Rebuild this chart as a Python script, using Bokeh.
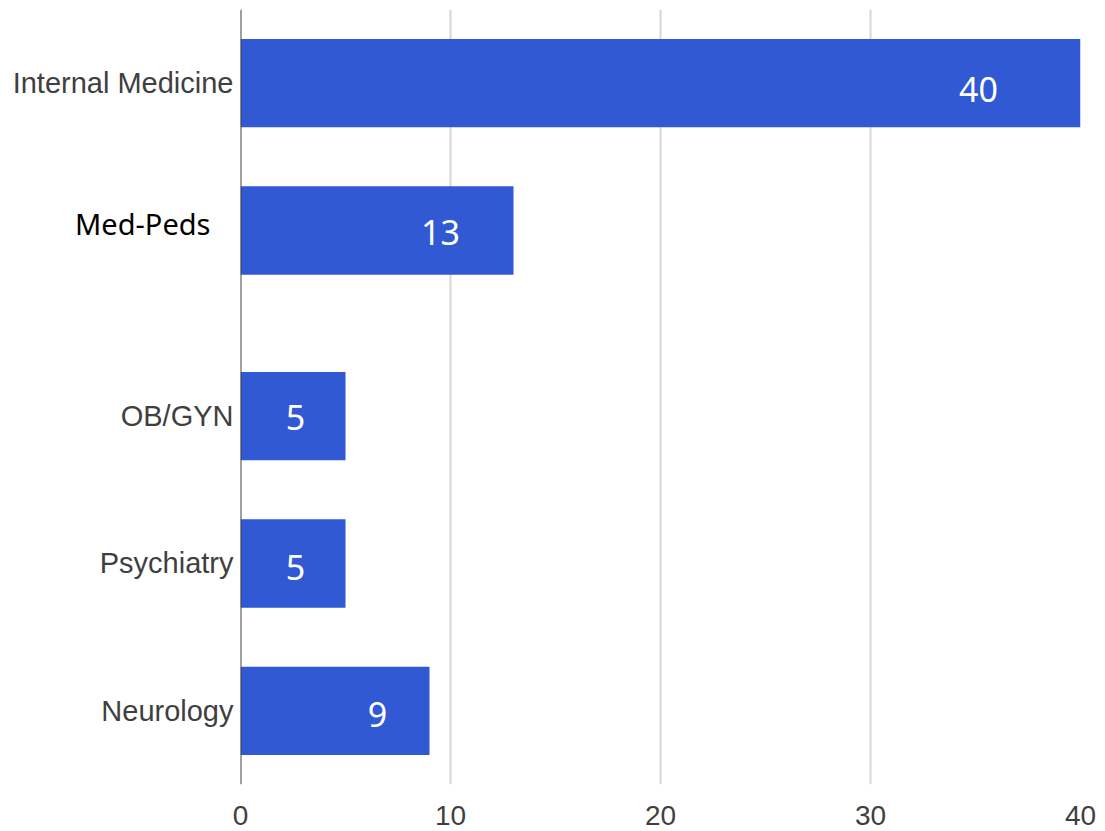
from bokeh.plotting import figure
from bokeh.models import ColumnDataSource, FactorRange, Range1d, FixedTicker, Span
from bokeh.core.properties import value
from bokeh.embed import file_html
from bokeh.resources import INLINE

# Specialties, top to bottom, and counts
specialties = ["Internal Medicine", "Med-Peds", "OB/GYN", "Psychiatry", "Neurology"]
counts = [40, 13, 5, 5, 9]
# The first two specialties form one block, the rest another (small gap between them)
blocks = ["a", "a", "b", "b", "b"]
x_ticks = [0, 10, 20, 30, 40]

# Nudges (px) of the white count labels from each bar's end
count_label_dx = [-102, -73, -50, -50, -52]
count_label_dy = [6, 2, 1, 4, 4]

BAR = "#3059D3"
LABEL_GREY = "#3f3f3f"

factors = list(zip(blocks, specialties))
# categorical axis runs bottom-up, so reverse for a top-down listing
y_range = FactorRange(factors=factors[::-1], group_padding=0.26, range_padding=0)

p = figure(
    width=1105, height=831,
    x_range=Range1d(0, 40), y_range=y_range,
    output_backend="svg", toolbar_location=None,
    min_border_left=240, min_border_right=25,
    min_border_top=9, min_border_bottom=47,
)

src = ColumnDataSource(dict(y=factors, count=counts,
                            label=[str(c) for c in counts],
                            dx=count_label_dx, dy=count_label_dy))

p.hbar(y="y", right="count", left=0, height=0.6, source=src,
       fill_color=BAR, line_color=None)

p.text(x="count", y="y", text="label", source=src,
       x_offset="dx", y_offset="dy",
       text_align="center", text_baseline="middle",
       text_color="white", text_font=value("Noto Sans"),
       text_font_size="34px")

# Specialty names beside the axis; Med-Peds is set in its own face
is_mp = [s == "Med-Peds" for s in specialties]
names = ColumnDataSource(dict(
    y=factors, x=[0] * len(factors), name=specialties,
    dx=[-30 if m else -7 for m in is_mp],
    dy=[-7 if m else 0 for m in is_mp],
    font=["Noto Sans" if m else "Liberation Sans" for m in is_mp],
    color=["black" if m else LABEL_GREY for m in is_mp],
))
p.text(x="x", y="y", text="name", source=names, x_offset="dx", y_offset="dy",
       text_align="right", text_baseline="middle",
       text_color="color", text_font="font", text_font_size="29px",
       level="overlay")

# Axes: bottom value axis with labels only, left baseline as a rule
p.xaxis.ticker = FixedTicker(ticks=x_ticks)
p.xaxis.axis_line_color = None
p.xaxis.major_tick_line_color = None
p.xaxis.minor_tick_line_color = None
p.xaxis.major_label_text_font = "Liberation Sans"
p.xaxis.major_label_text_font_size = "28px"
p.xaxis.major_label_text_color = LABEL_GREY
p.xaxis.major_label_standoff = 15

p.yaxis.visible = False
p.add_layout(Span(location=0, dimension="height",
                  line_color="#444444", line_width=2))

p.xgrid.grid_line_color = "#d6d6d6"
p.xgrid.grid_line_width = 2
p.ygrid.grid_line_color = None
p.outline_line_color = None
p.background_fill_color = "white"
p.border_fill_color = "white"

open("out.html", "w").write(file_html(p, INLINE))
